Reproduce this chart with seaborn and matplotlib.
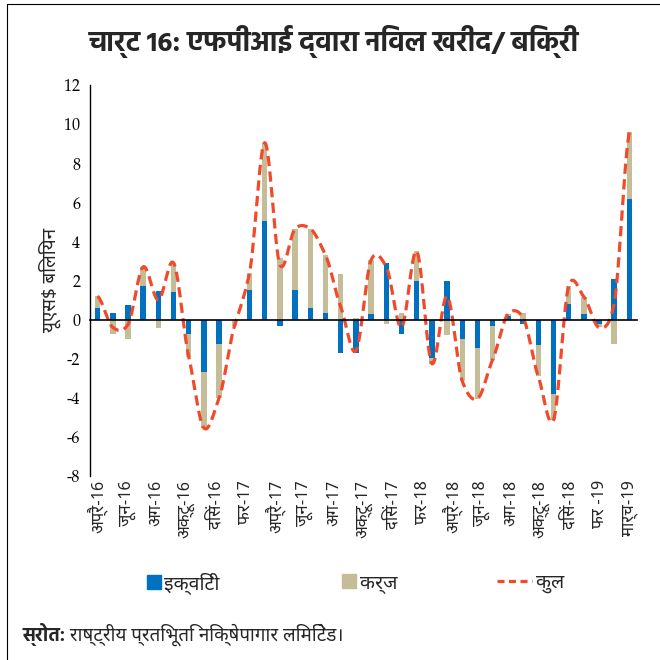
import numpy as np
import pandas as pd
import matplotlib
matplotlib.use("Agg")
import matplotlib.pyplot as plt
import seaborn as sns
from matplotlib import font_manager as fm
from matplotlib.patches import Patch, Rectangle
from matplotlib.lines import Line2D

# FPI net purchase / sale, US$ billion, Apr-16 .. Mar-19
months = ['Apr-16', 'May-16', 'Jun-16', 'Jul-16', 'Aug-16', 'Sep-16', 'Oct-16', 'Nov-16', 'Dec-16',
          'Jan-17', 'Feb-17', 'Mar-17', 'Apr-17', 'May-17', 'Jun-17', 'Jul-17', 'Aug-17', 'Sep-17',
          'Oct-17', 'Nov-17', 'Dec-17', 'Jan-18', 'Feb-18', 'Mar-18', 'Apr-18', 'May-18', 'Jun-18',
          'Jul-18', 'Aug-18', 'Sep-18', 'Oct-18', 'Nov-18', 'Dec-18', 'Jan-19', 'Feb-19', 'Mar-19']
equity = [0.6, 0.35, 0.75, 1.7, 1.45, 1.4, -0.75, -2.7, -1.25,
          0.0, 1.5, 5.05, -0.35, 1.5, 0.6, 0.35, -1.7, -1.7,
          0.3, 2.9, -0.75, 2.0, -1.95, 2.0, -1.0, -1.45, -0.35,
          0.2, -0.25, -1.3, -3.8, 0.8, 0.27, -0.2, 2.1, 6.15]
debt = [0.6, -0.75, -1.0, 1.0, -0.45, 1.5, -1.15, -2.85, -2.75,
        -0.35, 0.9, 4.0, 3.15, 3.15, 4.05, 2.95, 2.35, 0.1,
        2.75, -0.2, 0.35, 1.5, -0.3, -0.8, -2.15, -2.6, -1.7,
        0.07, 0.35, -1.6, -1.35, 0.9, 0.9, -0.2, -1.25, 3.45]
tick_labels = ['अप्रै-16', 'जून-16', 'अग-16', 'अक्टू-16', 'दिसं-16', 'फर-17', 'अप्रै-17', 'जून-17',
               'अग-17', 'अक्टू-17', 'दिसं-17', 'फर-18', 'अप्रै-18', 'जून-18', 'अग-18', 'अक्टू-18',
               'दिसं-18', 'फर -19', 'मार्च-19']

BLUE = '#0070C0'
TAN = '#C4BD97'
RED = '#F2492B'

avail = {f.name for f in fm.fontManager.ttflist}


def pick(*names):
    for n in names:
        if n in avail:
            return n
    return 'DejaVu Sans'


HINDI = pick('Noto Sans Devanagari', 'Hind', 'Mukta', 'Poppins', 'Akshar')
BOLD = pick('Hind', 'Noto Sans Devanagari', 'Mukta', 'Poppins', 'Akshar')
SERIF = pick('TeX Gyre Pagella', 'P052', 'URW Palladio L', 'Crimson Pro', 'Liberation Serif')

sns.set_style('white')
plt.rcParams['font.family'] = [HINDI, 'DejaVu Sans']

df = pd.DataFrame({'month': months, 'equity': equity, 'debt': debt})
df['total'] = df['equity'] + df['debt']
# debt stacks on equity only when both have the same sign (Excel style)
same_sign = np.sign(df['equity']) == np.sign(df['debt'])
df['debt_base'] = np.where(same_sign, df['equity'], 0.0)


def smooth(y, n=24, k=0.8):
    # smoothed line through each month (cardinal spline, a bit tighter than Catmull-Rom)
    p = np.r_[y[0], y, y[-1]]
    t = np.linspace(0, 1, n, endpoint=False)
    h00 = 2 * t ** 3 - 3 * t ** 2 + 1
    h10 = t ** 3 - 2 * t ** 2 + t
    h01 = -2 * t ** 3 + 3 * t ** 2
    h11 = t ** 3 - t ** 2
    xs, ys = [], []
    for i in range(len(y) - 1):
        p0, p1, p2, p3 = p[i], p[i + 1], p[i + 2], p[i + 3]
        m1 = k * (p2 - p0) / 2
        m2 = k * (p3 - p1) / 2
        xs.append(i + t)
        ys.append(h00 * p1 + h10 * m1 + h01 * p2 + h11 * m2)
    xs.append([len(y) - 1])
    ys.append([y[-1]])
    return np.concatenate(xs), np.concatenate(ys)


fig = plt.figure(figsize=(6.6, 6.6), dpi=100)
ax = fig.add_axes([90 / 660, 1 - 476 / 660, 547 / 660, 391 / 660])

sns.barplot(data=df, x='month', y='equity', color=BLUE, saturation=1, width=0.36,
            linewidth=0, ax=ax)
sns.barplot(data=df, x='month', y='debt', color=TAN, saturation=1, width=0.36,
            linewidth=0, bottom=df['debt_base'].values, ax=ax)

sx, sy = smooth(df['total'].values)
sns.lineplot(x=sx, y=sy, sort=False, estimator=None, color=RED, lw=2.3,
             dashes=False, ax=ax).lines[-1].set_dashes((3.2, 1.7))

ax.set_ylim(-8, 12)
ax.set_xlim(-0.5, len(months) - 0.5)
ax.set_yticks(np.arange(-8, 13, 2))
ax.set_yticklabels([str(v) for v in range(-8, 13, 2)], fontsize=11.5, family=SERIF)
ax.tick_params(axis='y', length=4, width=1, direction='out', pad=3, colors='black')
ax.set_ylabel('यूएस$ बिलियन', fontsize=13.5, labelpad=2)
ax.set_xlabel('')

for s in ['top', 'right']:
    ax.spines[s].set_visible(False)
ax.spines['left'].set_linewidth(1)
ax.spines['left'].set_color('black')
ax.spines['bottom'].set_position(('data', 0))
ax.spines['bottom'].set_linewidth(1.2)
ax.spines['bottom'].set_color('black')
ax.set_xticks(np.arange(-0.5, len(months), 1))
ax.set_xticklabels([])
ax.tick_params(axis='x', length=5, width=1, direction='out', colors='black')

# month labels along the bottom, evenly spread as in the original
sec = ax.secondary_xaxis('bottom')
sec.set_xticks(np.linspace(0, len(months) - 1, len(tick_labels)))
sec.set_xticklabels(tick_labels, rotation=90, fontsize=12)
sec.tick_params(length=0, pad=3)
sec.spines['bottom'].set_visible(False)

fig.text(0.506, 1 - 42 / 660, 'चार्ट 16: एफपीआई द्वारा निवल खरीद/ बिक्री', ha='center', va='center',
         fontsize=20, fontweight='bold', family=[BOLD, 'DejaVu Sans'])

leg_items = [
    (Patch(color=BLUE), 'इक्विटी', 147, 0.7),
    (Patch(color=TAN), 'कर्ज', 342, 0.7),
    (Line2D([], [], color=RED, lw=2.3, dashes=(2.2, 1.4)), 'कुल', 497, 1.8),
]
for handle, label, px, hl in leg_items:
    fig.legend(handles=[handle], labels=[label], loc='center left',
               bbox_to_anchor=(px / 660, 1 - 583 / 660), frameon=False, fontsize=14,
               handlelength=hl, handleheight=0.7, handletextpad=0.2, borderpad=0,
               borderaxespad=0)

src = fig.text(22 / 660, 1 - 635 / 660, 'स्रोत:', fontsize=13.5, fontweight='bold', va='center',
               family=[BOLD, 'DejaVu Sans'])
ax.annotate(' राष्ट्रीय प्रतिभूति निक्षेपागार लिमिटेड।', xy=(1, 0.5), xycoords=src,
            va='center', ha='left', fontsize=13.5, annotation_clip=False)

fig.patches.append(Rectangle((7 / 660, -0.1), 1.2, 1 - 4 / 660 + 0.1, transform=fig.transFigure,
                             fill=False, edgecolor='black', lw=0.8))

fig.savefig('out.png', dpi=100)
